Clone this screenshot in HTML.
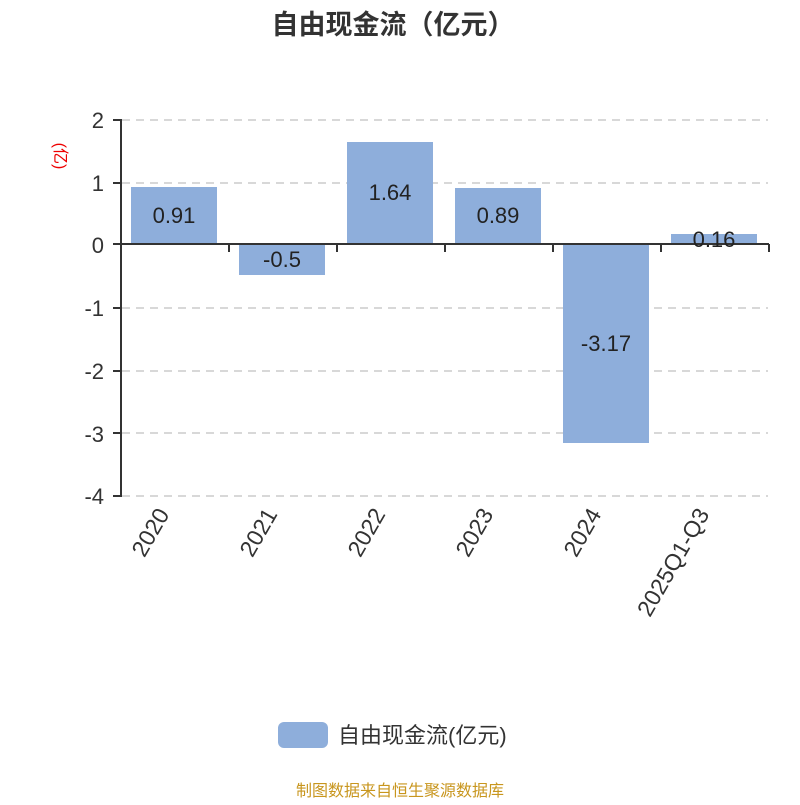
<!DOCTYPE html>
<html><head><meta charset="utf-8"><style>body{margin:0;background:#fff}</style></head>
<body>
<svg width="800" height="800" xmlns="http://www.w3.org/2000/svg" font-family="Liberation Sans, Noto Sans CJK SC, sans-serif">
<text x="393" y="34" text-anchor="middle" font-size="27" font-weight="bold" fill="#333">自由现金流（亿元）</text>
<g stroke="#ccc" stroke-dasharray="8,6" stroke-width="1.5">
<line x1="122" y1="120" x2="768" y2="120"/><line x1="122" y1="183" x2="768" y2="183"/>
<line x1="122" y1="308" x2="768" y2="308"/><line x1="122" y1="371" x2="768" y2="371"/>
<line x1="122" y1="433" x2="768" y2="433"/><line x1="122" y1="496" x2="768" y2="496"/>
</g>
<g fill="#8eaedb">
<rect x="131" y="187" width="86" height="57"/>
<rect x="239" y="244" width="86" height="31"/>
<rect x="347" y="142" width="86" height="102"/>
<rect x="455" y="188" width="86" height="56"/>
<rect x="563" y="244" width="86" height="199"/>
<rect x="671" y="234" width="86" height="10"/>
</g>
<g stroke="#333" stroke-width="2" fill="none">
<line x1="121" y1="119" x2="121" y2="497"/>
<line x1="113" y1="120" x2="121" y2="120"/><line x1="113" y1="183" x2="121" y2="183"/>
<line x1="113" y1="244" x2="121" y2="244"/><line x1="113" y1="308" x2="121" y2="308"/>
<line x1="113" y1="371" x2="121" y2="371"/><line x1="113" y1="433" x2="121" y2="433"/>
<line x1="113" y1="496" x2="121" y2="496"/>
<line x1="121" y1="244" x2="769" y2="244"/>
<line x1="229" y1="244" x2="229" y2="252"/><line x1="337" y1="244" x2="337" y2="252"/>
<line x1="445" y1="244" x2="445" y2="252"/><line x1="553" y1="244" x2="553" y2="252"/>
<line x1="661" y1="244" x2="661" y2="252"/><line x1="769" y1="244" x2="769" y2="252"/>
</g>
<g font-size="22" fill="#333" text-anchor="end">
<text x="104" y="128">2</text><text x="104" y="191">1</text><text x="104" y="253">0</text>
<text x="104" y="316">-1</text><text x="104" y="379">-2</text><text x="104" y="442">-3</text>
<text x="104" y="504">-4</text>
</g>
<text transform="translate(55,156) rotate(90)" text-anchor="middle" font-size="16" fill="#e00">(亿)</text>
<g font-size="22" fill="#222" text-anchor="middle">
<text x="174" y="223">0.91</text><text x="282" y="267">-0.5</text>
<text x="390" y="200">1.64</text><text x="498" y="223">0.89</text>
<text x="606" y="351">-3.17</text><text x="714" y="247">0.16</text>
</g>
<g font-size="23" fill="#333" text-anchor="end">
<text transform="translate(170,514) rotate(-60)">2020</text>
<text transform="translate(278,514) rotate(-60)">2021</text>
<text transform="translate(386,514) rotate(-60)">2022</text>
<text transform="translate(494,514) rotate(-60)">2023</text>
<text transform="translate(602,514) rotate(-60)">2024</text>
<text transform="translate(710,514) rotate(-60)">2025Q1-Q3</text>
</g>
<rect x="278" y="722" width="50" height="26" rx="6" fill="#8eaedb"/>
<text x="338" y="743" font-size="22" fill="#333">自由现金流(亿元)</text>
<text x="400" y="796" text-anchor="middle" font-size="16" fill="#c8961e">制图数据来自恒生聚源数据库</text>
</svg>
</body></html>
